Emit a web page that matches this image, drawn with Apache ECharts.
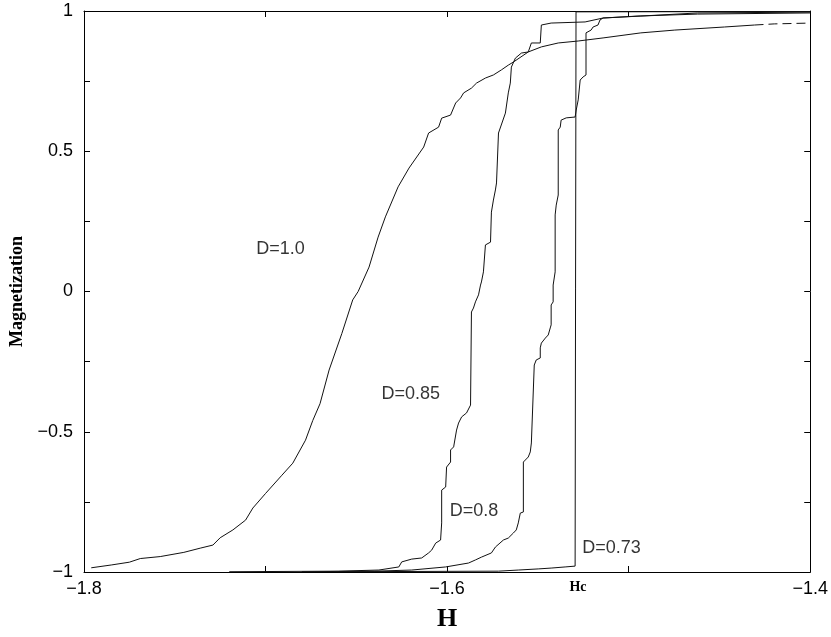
<!DOCTYPE html>
<html>
<head>
<meta charset="utf-8">
<script src="https://cdn.jsdelivr.net/npm/echarts@6/dist/echarts.min.js"></script>
<style>html,body{margin:0;padding:0;background:#fff}#c{width:831px;height:637px}</style>
</head>
<body>
<div id="c"></div>
<script>
// ---- data (H, Magnetization) ----
const HC = -1.529;
const xTickLabels = [-1.8, -1.6, -1.4];
const yTickLabels = [-1, -0.5, 0, 0.5, 1];

const d10 = [[-1.796,-0.985],[-1.785,-0.975],[-1.775,-0.965],[-1.769,-0.952],[-1.758,-0.945],[-1.745,-0.93],[-1.736,-0.915],[-1.729,-0.904],[-1.725,-0.878],[-1.718,-0.85],[-1.711,-0.815],[-1.707,-0.772],[-1.700,-0.72],[-1.691,-0.655],[-1.685,-0.612],[-1.678,-0.53],[-1.674,-0.46],[-1.670,-0.40],[-1.665,-0.28],[-1.658,-0.15],[-1.652,-0.03],[-1.649,0.0],[-1.643,0.087],[-1.638,0.194],[-1.634,0.266],[-1.627,0.373],[-1.621,0.44],[-1.6129,0.515],[-1.6102,0.565],[-1.6047,0.586],[-1.603,0.618],[-1.5981,0.629],[-1.5953,0.672],[-1.5926,0.690],[-1.5909,0.708],[-1.5866,0.725],[-1.5838,0.743],[-1.5789,0.761],[-1.5745,0.772],[-1.5701,0.790],[-1.5663,0.807],[-1.5635,0.818],[-1.5553,0.854],[-1.5481,0.872],[-1.5388,0.886],[-1.5278,0.893],[-1.5141,0.904],[-1.4933,0.922],[-1.4746,0.932],[-1.4472,0.943],[-1.4307,0.950]];
const d10Tail = [[-1.4307,0.950],[-1.4198,0.954],[-1.4,0.957]];

const d085 = [[-1.72,-0.999],[-1.66,-0.997],[-1.6376,-0.993],[-1.6266,-0.982],[-1.625,-0.964],[-1.6195,-0.954],[-1.614,-0.950],[-1.6102,-0.932],[-1.6085,-0.922],[-1.6063,-0.897],[-1.6036,-0.886],[-1.603,-0.825],[-1.603,-0.708],[-1.6008,-0.697],[-1.6003,-0.626],[-1.5981,-0.608],[-1.5981,-0.565],[-1.5964,-0.554],[-1.5948,-0.494],[-1.5937,-0.469],[-1.592,-0.447],[-1.5893,-0.433],[-1.5871,-0.405],[-1.5866,-0.398],[-1.5866,-0.073],[-1.5855,-0.059],[-1.5844,-0.037],[-1.5827,-0.012],[-1.5816,0.023],[-1.5811,0.034],[-1.58,0.070],[-1.5789,0.166],[-1.5761,0.176],[-1.5756,0.283],[-1.5745,0.326],[-1.5734,0.362],[-1.5728,0.387],[-1.5717,0.565],[-1.5679,0.636],[-1.5663,0.708],[-1.5652,0.743],[-1.5646,0.800],[-1.5624,0.832],[-1.5591,0.850],[-1.5553,0.854],[-1.5536,0.886],[-1.5487,0.886],[-1.5481,0.950],[-1.5427,0.957],[-1.524,0.961],[-1.5141,0.975],[-1.4949,0.982],[-1.462,0.989],[-1.4,0.993]];

const d080 = [[-1.68,-0.999],[-1.64,-0.997],[-1.6195,-0.993],[-1.6008,-0.982],[-1.5882,-0.968],[-1.5844,-0.957],[-1.5811,-0.947],[-1.5756,-0.932],[-1.5734,-0.911],[-1.569,-0.886],[-1.5663,-0.879],[-1.5635,-0.861],[-1.5619,-0.850],[-1.5608,-0.825],[-1.5597,-0.790],[-1.558,-0.786],[-1.558,-0.608],[-1.5569,-0.601],[-1.5553,-0.590],[-1.5542,-0.572],[-1.5536,-0.540],[-1.5525,-0.537],[-1.552,-0.262],[-1.5509,-0.244],[-1.5487,-0.237],[-1.5487,-0.201],[-1.5481,-0.184],[-1.5459,-0.166],[-1.5443,-0.155],[-1.5432,-0.130],[-1.5427,-0.119],[-1.5427,-0.048],[-1.5416,-0.037],[-1.5416,0.023],[-1.5405,0.070],[-1.5405,0.273],[-1.5399,0.308],[-1.5388,0.344],[-1.5388,0.576],[-1.5377,0.586],[-1.5372,0.611],[-1.5344,0.619],[-1.5295,0.622],[-1.5289,0.647],[-1.5278,0.683],[-1.5267,0.754],[-1.5251,0.765],[-1.5235,0.772],[-1.5235,0.922],[-1.5207,0.932],[-1.5196,0.943],[-1.5169,0.950],[-1.5158,0.968],[-1.5141,0.975],[-1.4933,0.982],[-1.462,0.993],[-1.4,0.996]];

const d073 = [[-1.66,-0.999],[-1.5717,-0.997],[-1.5608,-0.993],[-1.5498,-0.989],[-1.5427,-0.986],[-1.535,-0.982],[-1.5295,-0.979],[-1.529,-0.979],[-1.529,0.997],[-1.4,0.998]];

const curveLabels = [[-1.6915,0.148,'D=1.0'],[-1.6198,-0.369,'D=0.85'],[-1.5849,-0.786,'D=0.8'],[-1.5092,-0.918,'D=0.73']];

// ---- chart ----
const chart = echarts.init(document.getElementById('c'), null, {renderer:'canvas'});
const fmt = v => String(v).replace('-', '\u2212');
const sans = 'Liberation Sans, Arial, sans-serif';
const serif = 'Liberation Serif, Times New Roman, serif';
const lineCol = '#111';
function curve(name, data, dashed) {
  return {name, type:'line', data, showSymbol:false, symbol:'none', animation:false,
    lineStyle:{color:lineCol, width:1, type: dashed ? [9,5] : 'solid'}, z:3};
}
chart.setOption({
  animation:false,
  backgroundColor:'#fff',
  grid:{left:84, right:18, top:11, bottom:65},
  xAxis:[{
    type:'value', min:-1.8, max:-1.4, interval:0.1, position:'bottom',
    axisLine:{onZero:false, lineStyle:{color:'#000', width:1}},
    axisTick:{inside:true, length:6, lineStyle:{color:'#000'}},
    splitLine:{show:false},
    axisLabel:{customValues: xTickLabels.concat([HC]), margin:8, color:'#000', fontFamily:sans, fontSize:18,
      formatter: v => Math.abs(v-HC) < 1e-6 ? '{hc|Hc}' : fmt(v.toFixed(1)),
      rich:{hc:{fontFamily:serif, fontWeight:'bold', fontSize:14, color:'#000', padding:[0,0,2,4]}}},
    name:'H', nameLocation:'middle', nameGap:34,
    nameTextStyle:{fontFamily:serif, fontWeight:'bold', fontSize:26, color:'#000'}
  },{
    type:'value', min:-1.8, max:-1.4, interval:0.1, position:'top',
    axisLine:{onZero:false, lineStyle:{color:'#000', width:1}},
    axisTick:{inside:true, length:6, lineStyle:{color:'#000'}},
    axisLabel:{show:false}, splitLine:{show:false}
  }],
  yAxis:[{
    type:'value', min:-1, max:1, interval:0.25, position:'left',
    axisLine:{show:true, onZero:false, lineStyle:{color:'#000', width:1}},
    axisTick:{show:true, inside:true, length:6, lineStyle:{color:'#000'}},
    splitLine:{show:false},
    axisLabel:{customValues: yTickLabels, margin:11, color:'#000', fontFamily:sans, fontSize:18,
      formatter: v => fmt(v)},
    name:'Magnetization', nameLocation:'middle', nameGap:53, nameRotate:90,
    nameTextStyle:{fontFamily:serif, fontWeight:'bold', fontSize:18, color:'#000'}
  },{
    type:'value', min:-1, max:1, interval:0.25, position:'right',
    axisLine:{show:true, onZero:false, lineStyle:{color:'#000', width:1}},
    axisTick:{show:true, inside:true, length:6, lineStyle:{color:'#000'}},
    axisLabel:{show:false}, splitLine:{show:false}
  }],
  series:[
    curve('D=1.0', d10, false),
    curve('D=1.0 tail', d10Tail, true),
    curve('D=0.85', d085, false),
    curve('D=0.8', d080, false),
    curve('D=0.73', d073, false),
    {type:'scatter', data:curveLabels, symbolSize:1, itemStyle:{color:'rgba(0,0,0,0)'}, z:5,
      label:{show:true, position:[0,0], align:'center', verticalAlign:'middle', formatter:p=>p.data[2],
        color:'#000', textBorderWidth:0, fontFamily:sans, fontSize:18}}
  ]
});
</script>
</body>
</html>
